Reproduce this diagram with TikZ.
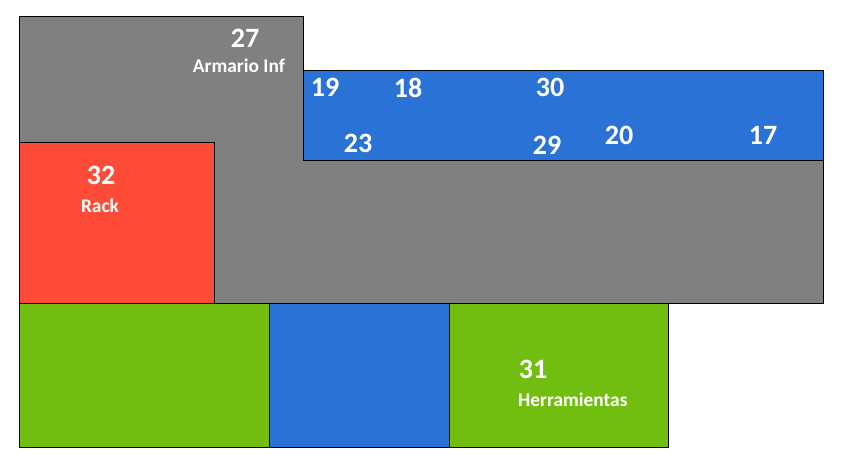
\documentclass[tikz,border=0pt]{standalone}
\usepackage{fontspec}
\setmainfont{Carlito}
\definecolor{cgray}{HTML}{808080}
\definecolor{cblue}{HTML}{2A72D5}
\definecolor{cred}{HTML}{FF4B37}
\definecolor{cgreen}{HTML}{72BE10}
\begin{document}
\begin{tikzpicture}[x=1pt,y=-1pt,
  zone/.style={draw=black,line width=1pt},
  num/.style={text=white,font=\bfseries\fontsize{28}{28}\selectfont,inner sep=0pt},
  lbl/.style={text=white,font=\bfseries\fontsize{19.4}{19.4}\selectfont,inner sep=0pt}]
\useasboundingbox (0,0) rectangle (846,455);
\fill[white] (0,0) rectangle (846,455);
% gray L-shape
\draw[zone,fill=cgray] (19.5,16) -- (303,16) -- (303,160) -- (823,160) -- (823,303) -- (19.5,303) -- cycle;
% blue strip
\draw[zone,fill=cblue] (303,70.5) rectangle (823,160);
% red rack
\draw[zone,fill=cred] (19.5,142) rectangle (214,303);
% bottom
\draw[zone,fill=cgreen] (19.5,303) rectangle (269,447.5);
\draw[zone,fill=cblue] (269,303) rectangle (449,447.5);
\draw[zone,fill=cgreen] (449,303) rectangle (668,447.5);
% labels
\node[num] (n27) at (245,38) {27};
\node[lbl] (l27) at (239,66) {Armario Inf};
\node[num] (n19) at (325,87) {19};
\node[num] (n18) at (408,88) {18};
\node[num] (n30) at (550,87) {30};
\node[num] (n23) at (358,143) {23};
\node[num] (n29) at (547,145) {29};
\node[num] (n20) at (619,135) {20};
\node[num] (n17) at (763,135) {17};
\node[num] (n32) at (101,175) {32};
\node[lbl] (l32) at (100,206) {Rack};
\node[num] (n31) at (533,369) {31};
\node[lbl,anchor=west] (l31) at (518,400) {Herramientas};
\end{tikzpicture}
\end{document}
